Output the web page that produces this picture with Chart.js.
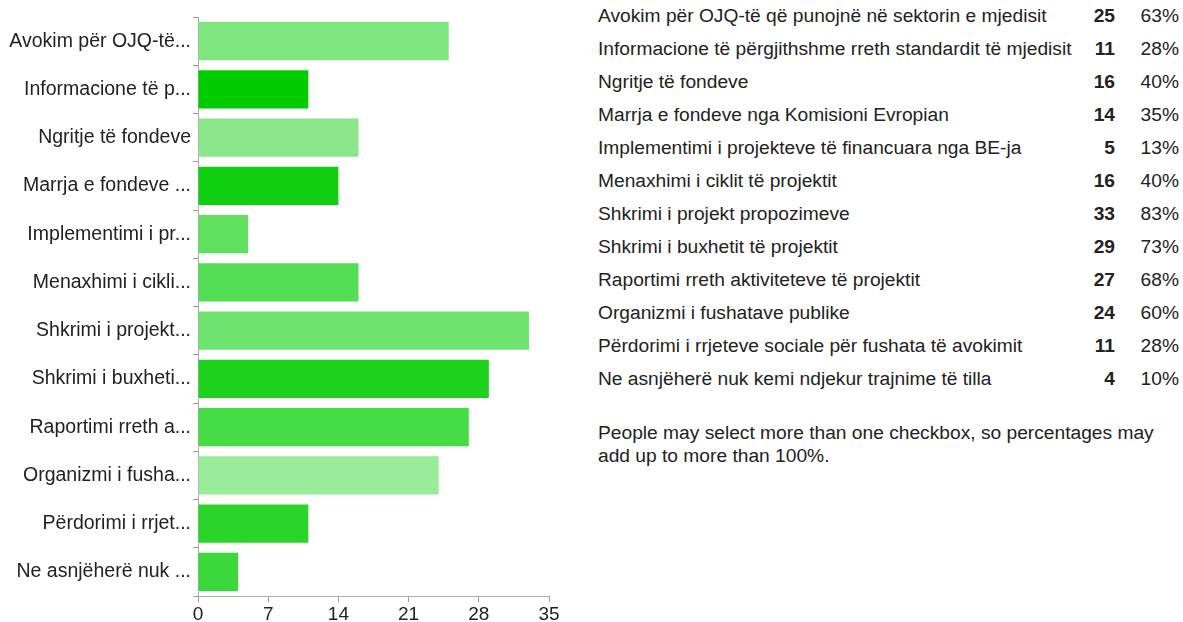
<!DOCTYPE html>
<html>
<head>
<meta charset="utf-8">
<script src="https://cdn.jsdelivr.net/npm/chart.js@4"></script>
<style>
  html, body { margin: 0; padding: 0; background: #fff; }
  body { width: 1183px; height: 622px; position: relative; overflow: hidden; font-family: "Liberation Sans", Arial, sans-serif; color: #222; }
  #chartWrap { position: absolute; left: 0; top: 0; width: 580px; height: 622px; }
  #table { position: absolute; left: 598px; top: -1px; width: 585px; }
  .row { position: relative; height: 33px; line-height: 33px; font-size: 19.2px; white-space: nowrap; }
  .row .lbl { position: absolute; left: 0; }
  .row .cnt { position: absolute; right: 68px; font-weight: bold; }
  .row .pct { position: absolute; right: 4px; }
  #note { position: absolute; left: 598px; top: 421px; width: 568px; font-size: 19.2px; line-height: 23px; }
</style>
</head>
<body>
<div id="chartWrap"><canvas id="c" width="580" height="622"></canvas></div>
<div id="table"></div>
<div id="note"></div>
<script>
const categories = [
  "Avokim për OJQ-të që punojnë në sektorin e mjedisit",
  "Informacione të përgjithshme rreth standardit të mjedisit",
  "Ngritje të fondeve",
  "Marrja e fondeve nga Komisioni Evropian",
  "Implementimi i projekteve të financuara nga BE-ja",
  "Menaxhimi i ciklit të projektit",
  "Shkrimi i projekt propozimeve",
  "Shkrimi i buxhetit të projektit",
  "Raportimi rreth aktiviteteve të projektit",
  "Organizmi i fushatave publike",
  "Përdorimi i rrjeteve sociale për fushata të avokimit",
  "Ne asnjëherë nuk kemi ndjekur trajnime të tilla"
];
const axisLabels = [
  "Avokim për OJQ-të...",
  "Informacione të p...",
  "Ngritje të fondeve",
  "Marrja e fondeve ...",
  "Implementimi i pr...",
  "Menaxhimi i cikli...",
  "Shkrimi i projekt...",
  "Shkrimi i buxheti...",
  "Raportimi rreth a...",
  "Organizmi i fusha...",
  "Përdorimi i rrjet...",
  "Ne asnjëherë nuk ..."
];
const counts = [25, 11, 16, 14, 5, 16, 33, 29, 27, 24, 11, 4];
const percents = ["63%", "28%", "40%", "35%", "13%", "40%", "83%", "73%", "68%", "60%", "28%", "10%"];
const barColors = ["#7fe57f", "#00cc00", "#8ae68a", "#10cf10", "#5fe05f", "#52dd52", "#6ee36e", "#1dd11d", "#45dc45", "#9aeb9a", "#28d528", "#3bd83b"];
const xTicks = [0, 7, 14, 21, 28, 35];
const noteText = "People may select more than one checkbox, so percentages may add up to more than 100%.";

// table
const table = document.getElementById('table');
categories.forEach((c, i) => {
  const r = document.createElement('div');
  r.className = 'row';
  r.innerHTML = '<span class="lbl"></span><span class="cnt"></span><span class="pct"></span>';
  r.querySelector('.lbl').textContent = c;
  r.querySelector('.cnt').textContent = counts[i];
  r.querySelector('.pct').textContent = percents[i];
  table.appendChild(r);
});
document.getElementById('note').textContent = noteText;

const fontFam = '"Liberation Sans", Arial, sans-serif';
new Chart(document.getElementById('c'), {
  type: 'bar',
  data: {
    labels: axisLabels,
    datasets: [{
      data: counts,
      backgroundColor: barColors,
      borderWidth: 0,
      categoryPercentage: 1,
      barPercentage: 0.79
    }]
  },
  options: {
    indexAxis: 'y',
    responsive: false,
    animation: false,
    layout: { padding: { top: 17, right: 31, left: 0, bottom: 0 } },
    plugins: { legend: { display: false }, tooltip: { enabled: false } },
    scales: {
      x: {
        min: xTicks[0],
        max: xTicks[xTicks.length - 1],
        afterBuildTicks: (s) => { s.ticks = xTicks.map(v => ({ value: v })); },
        ticks: { color: '#222', font: { family: fontFam, size: 19 }, padding: 1, maxRotation: 0 },
        grid: { drawOnChartArea: false, drawTicks: true, tickLength: 6, color: '#999' },
        border: { color: '#aaa', width: 1 },
        afterFit: (s) => { s.height = 26; }
      },
      y: {
        ticks: { color: '#222', font: { family: fontFam, size: 19.5 }, padding: 2, autoSkip: false },
        grid: { drawOnChartArea: false, drawTicks: true, tickLength: 5, color: '#999' },
        border: { color: '#aaa', width: 1 },
        afterFit: (s) => { s.width = 198; }
      }
    }
  }
});
</script>
</body>
</html>
